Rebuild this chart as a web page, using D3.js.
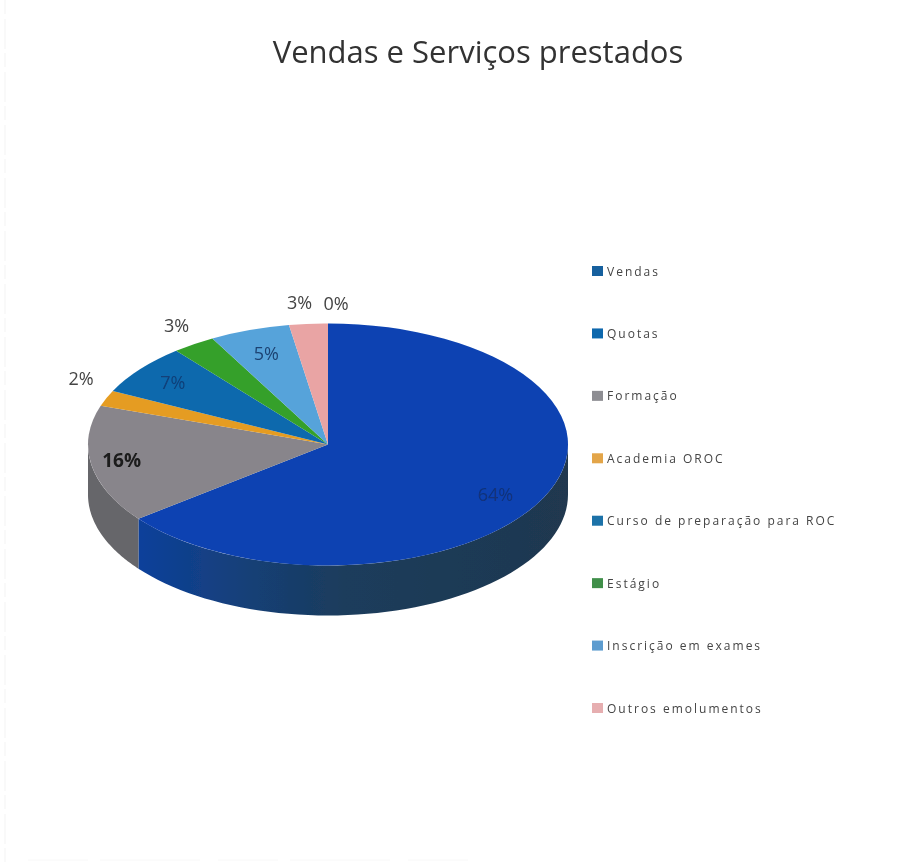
<!DOCTYPE html>
<html><head><meta charset="utf-8">
<script src="https://cdn.jsdelivr.net/npm/d3@7/dist/d3.min.js"></script>
<style>html,body{margin:0;padding:0;background:#fff}svg{display:block}text{font-family:"Open Sans",sans-serif}</style>
</head><body><div id="c"></div>
<script>
const title = "Vendas e Serviços prestados";
const categories = ["Vendas","Quotas","Formação","Academia OROC","Curso de preparação para ROC","Estágio","Inscrição em exames","Outros emolumentos"];
const values = [64.49,0,15.71,2.1,6.8,2.9,5.4,2.6];
const sliceColors = ["#0a42b2","#0d68ad","#88858b","#e59c20","#0c69ad","#35a02c","#57a3da","#e9a4a4"];
const sideColors = ["url(#rimVendas)","#0a4a7a","#66666a","#a06d12","#084a7a","#24701e","#3d7299","#a37272"];
const legendColors = ["#15609e","#1068ad","#8d8d92","#e3a548","#1a72a8","#3f8f4a","#5d9ccf","#e6aeb0"];
const labelColors = ["#12327a","#444","#1a1a1a","#444","#123f78","#444","#1d4372","#444"];
const labelWeights = [400,400,700,400,400,400,400,400];
const labelSizes = [18,18,19,18,18,18,18,18];
const labelInside = [true,false,true,false,true,false,true,false];
const labelNudge = [[-5,7],[8,-2],[-17,-1],[8,-13],[-5,-2],[3,-4],[1,0],[-6,-4]];

const W=910,H=862,cx=328,cy=444.5,rx=240,ry=121,depth=50;
const svg=d3.select("#c").append("svg").attr("width",W).attr("height",H);
const defs=svg.append("defs");
defs.append("filter").attr("id","scan").attr("x","-5%").attr("y","-5%").attr("width","110%").attr("height","110%")
  .append("feGaussianBlur").attr("stdDeviation",0.6);
const grad=defs.append("linearGradient").attr("id","rimVendas").attr("gradientUnits","userSpaceOnUse")
  .attr("x1",135).attr("x2",570).attr("y1",0).attr("y2",0);
[[0,"#0d3f9c"],[0.28,"#163f74"],[0.48,"#1b3c5c"],[1,"#20384f"]].forEach(s=>
  grad.append("stop").attr("offset",s[0]).attr("stop-color",s[1]));
svg.append("rect").attr("width",W).attr("height",H).attr("fill","#fff");

// Faint scanner marks along the page edges
svg.append("line").attr("x1",5).attr("x2",5).attr("y1",0).attr("y2",H)
  .attr("stroke","#f9f9f9").attr("stroke-width",2).attr("stroke-dasharray","14 5 30 4");
svg.append("line").attr("x1",28).attr("x2",480).attr("y1",860).attr("y2",860)
  .attr("stroke","#f8f8f8").attr("stroke-width",1).attr("stroke-dasharray","60 12 100 18");

const g=svg.append("g").attr("filter","url(#scan)");

g.append("text").attr("x",478).attr("y",63).attr("text-anchor","middle")
  .attr("font-size",31).attr("fill","#333").text(title);

const pie=d3.pie().value(d=>d.v).sort(null).startAngle(0).endAngle(2*Math.PI);
const arcs=pie(categories.map((n,i)=>({n,v:values[i],i})));
const px=(a,f=1)=>cx+rx*f*Math.sin(a), py=(a,f=1)=>cy-ry*f*Math.cos(a);

// Rim of the disc: only the front half (90° to 270°) is visible.
const lo=Math.PI/2, hi=3*Math.PI/2;
const rim=d3.line().x(d=>d[0]).y(d=>d[1]);
arcs.forEach(d=>{
  const a0=Math.max(d.startAngle,lo), a1=Math.min(d.endAngle,hi);
  if(a1<=a0) return;
  const as=d3.range(0,61).map(k=>a0+(a1-a0)*k/60);
  const pts=as.map(a=>[px(a),py(a)]).concat(as.slice().reverse().map(a=>[px(a),py(a)+depth]));
  g.append("path").attr("d",rim(pts)+"Z").attr("fill",sideColors[d.data.i]);
});

// Top face: a circular d3.arc squashed vertically.
const arc=d3.arc().innerRadius(0).outerRadius(rx);
const face=g.append("g").attr("transform",`translate(${cx},${cy}) scale(1,${ry/rx})`);
face.selectAll("path").data(arcs.filter(d=>d.value>0)).join("path")
  .attr("d",arc).attr("fill",d=>sliceColors[d.data.i]);

// Data labels
arcs.forEach(d=>{
  const i=d.data.i;
  const a=d.value>0?(d.startAngle+d.endAngle)/2:0;
  const f=labelInside[i]?0.8:1.15;
  g.append("text").attr("x",px(a,f)+labelNudge[i][0]).attr("y",py(a,f)+labelNudge[i][1])
    .attr("text-anchor","middle").attr("dominant-baseline","central")
    .attr("font-size",labelSizes[i]).attr("font-weight",labelWeights[i]).attr("fill",labelColors[i])
    .text(d3.format(".0f")(values[i])+"%");
});

// Legend
const ly=d3.scalePoint().domain(categories).range([271,708]);
const leg=g.selectAll("g.l").data(categories).join("g").attr("class","l")
  .attr("transform",d=>`translate(592,${ly(d)})`);
leg.append("rect").attr("x",0).attr("y",-5).attr("width",11).attr("height",10)
  .attr("fill",(d,i)=>legendColors[i]);
leg.append("text").attr("x",15).attr("y",0).attr("dominant-baseline","central")
  .attr("font-size",12).attr("letter-spacing",2).attr("fill","#444").text(d=>d);
</script></body></html>
